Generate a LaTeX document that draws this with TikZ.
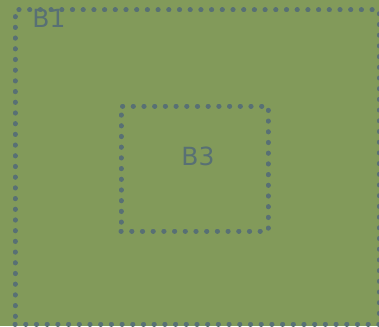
\documentclass[tikz,border=0pt]{standalone}
\usepackage{fontspec}
\setmainfont{DejaVu Sans}
\usepackage{tikz}
\usetikzlibrary{positioning}
\definecolor{FieldGreen}{RGB}{130, 154, 90}
\definecolor{SlateDot}{RGB}{88, 112, 116}
\tikzset{
    dotbox/.style={draw=SlateDot, line width=5pt, line cap=round,
        dash pattern=on 0.2pt off 10.5pt, inner sep=0pt, outer sep=0pt},
    boxname/.style={text=SlateDot, font=\fontsize{25}{29}\selectfont, inner sep=0pt}
}

\begin{document}
\begin{tikzpicture}[x=1pt, y=-1pt]
    \fill[FieldGreen] (0,0) rectangle (379,326);
    \useasboundingbox (0,0) rectangle (379,326);
    % outer and inner boxes
    \node[dotbox, minimum width=364pt, minimum height=314pt] (b1) at (197,167) {};
    \node[dotbox, minimum width=147pt, minimum height=125pt] (b3) at (194.5,168.5) {};
    % names
    \node[boxname] (b1name) at (49,18) {B1};
    \node[boxname] (b3name) at (198,156) {B3};
\end{tikzpicture}
\end{document}
